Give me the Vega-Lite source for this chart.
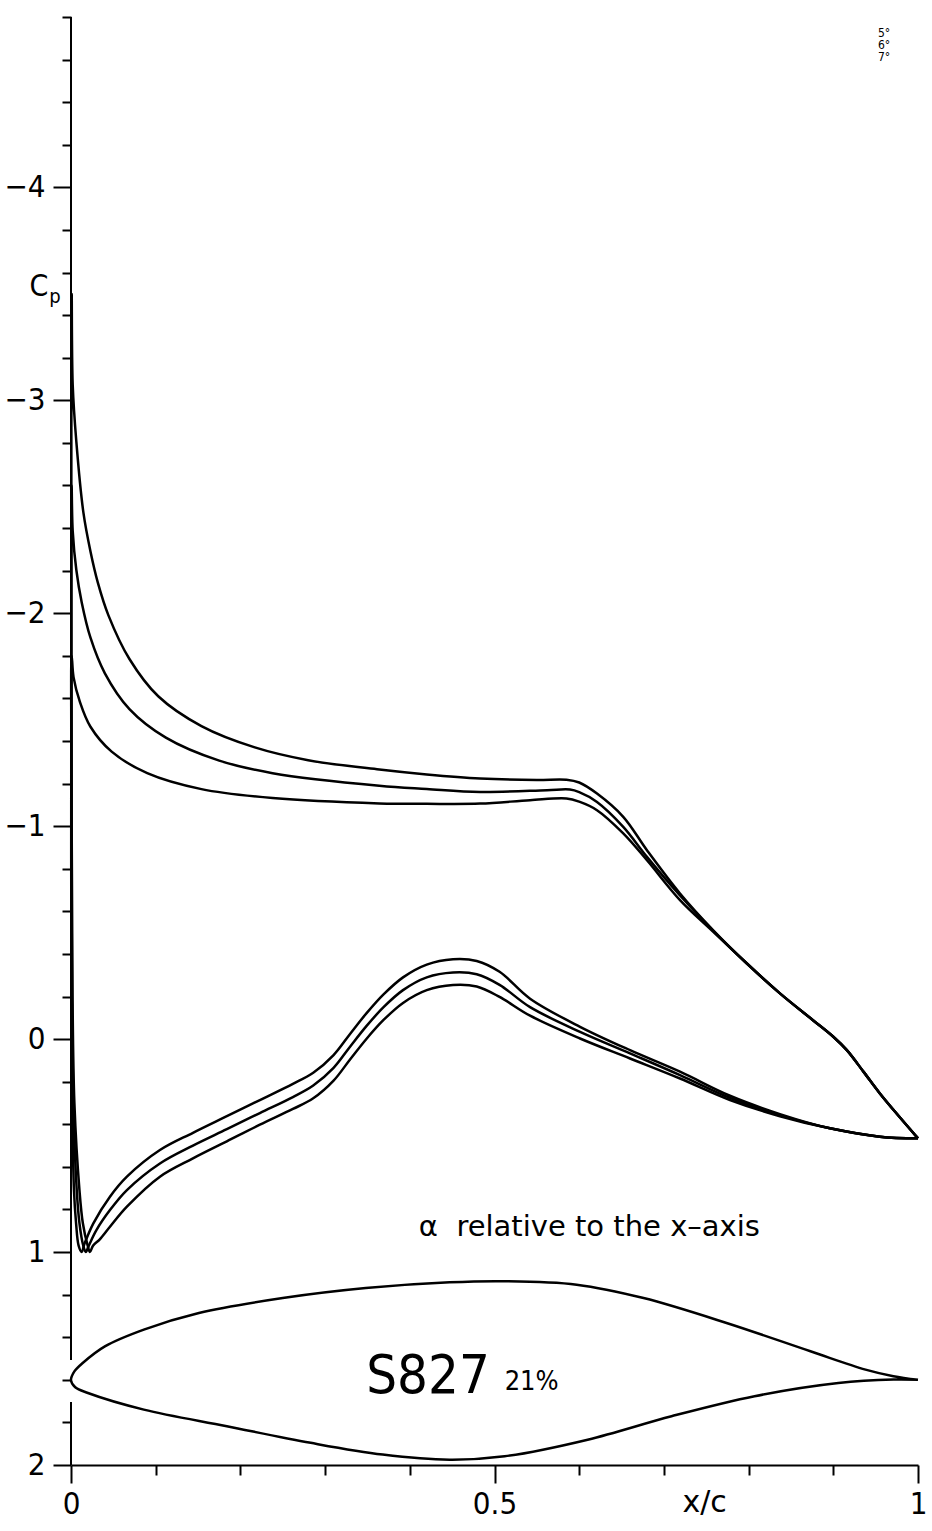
{
  "$schema": "https://vega.github.io/schema/vega-lite/v6.json",
  "width": 847,
  "height": 1448,
  "autosize": "none",
  "padding": {"left": 71, "top": 17, "right": 14, "bottom": 66},
  "background": "white",
  "config": {"view": {"stroke": null}, "axis": {"grid": false}},
  "datasets": {
    "curves": [
      {"a":"7","i":1,"x":1.0,"cp":0.466},{"a":"7","i":2,"x":0.977,"cp":0.36},{"a":"7","i":3,"x":0.955,"cp":0.255},{"a":"7","i":4,"x":0.936,"cp":0.155},{"a":"7","i":5,"x":0.916,"cp":0.052},{"a":"7","i":6,"x":0.9,"cp":-0.011},{"a":"7","i":7,"x":0.876,"cp":-0.089},{"a":"7","i":8,"x":0.837,"cp":-0.215},{"a":"7","i":9,"x":0.798,"cp":-0.355},{"a":"7","i":10,"x":0.758,"cp":-0.512},{"a":"7","i":11,"x":0.719,"cp":-0.684},{"a":"7","i":12,"x":0.68,"cp":-0.887},{"a":"7","i":13,"x":0.652,"cp":-1.044},{"a":"7","i":14,"x":0.621,"cp":-1.153},{"a":"7","i":15,"x":0.6,"cp":-1.205},{"a":"7","i":16,"x":0.585,"cp":-1.218},{"a":"7","i":17,"x":0.55,"cp":-1.217},{"a":"7","i":18,"x":0.483,"cp":-1.224},{"a":"7","i":19,"x":0.42,"cp":-1.243},{"a":"7","i":20,"x":0.364,"cp":-1.266},{"a":"7","i":21,"x":0.28,"cp":-1.31},{"a":"7","i":22,"x":0.217,"cp":-1.37},{"a":"7","i":23,"x":0.154,"cp":-1.47},{"a":"7","i":24,"x":0.103,"cp":-1.61},{"a":"7","i":25,"x":0.069,"cp":-1.785},{"a":"7","i":26,"x":0.0442,"cp":-1.99},{"a":"7","i":27,"x":0.0316,"cp":-2.145},{"a":"7","i":28,"x":0.023,"cp":-2.29},{"a":"7","i":29,"x":0.0147,"cp":-2.471},{"a":"7","i":30,"x":0.0063,"cp":-2.806},{"a":"7","i":31,"x":0.002,"cp":-3.074},{"a":"7","i":32,"x":0.0008,"cp":-3.5},{"a":"7","i":33,"x":0.0004,"cp":-2.5},{"a":"7","i":34,"x":0.0008,"cp":-1.0},{"a":"7","i":35,"x":0.0018,"cp":-0.2},{"a":"7","i":36,"x":0.004,"cp":0.3},{"a":"7","i":37,"x":0.01,"cp":0.71},{"a":"7","i":38,"x":0.014,"cp":0.865},{"a":"7","i":39,"x":0.0197,"cp":0.97},{"a":"7","i":40,"x":0.0224,"cp":1.0},{"a":"7","i":41,"x":0.026,"cp":0.97},{"a":"7","i":42,"x":0.034,"cp":0.94},{"a":"7","i":43,"x":0.046,"cp":0.881},{"a":"7","i":44,"x":0.066,"cp":0.787},{"a":"7","i":45,"x":0.105,"cp":0.646},{"a":"7","i":46,"x":0.144,"cp":0.56},{"a":"7","i":47,"x":0.184,"cp":0.48},{"a":"7","i":48,"x":0.223,"cp":0.402},{"a":"7","i":49,"x":0.262,"cp":0.328},{"a":"7","i":50,"x":0.286,"cp":0.278},{"a":"7","i":51,"x":0.31,"cp":0.195},{"a":"7","i":52,"x":0.329,"cp":0.098},{"a":"7","i":53,"x":0.349,"cp":-0.002},{"a":"7","i":54,"x":0.369,"cp":-0.09},{"a":"7","i":55,"x":0.392,"cp":-0.17},{"a":"7","i":56,"x":0.42,"cp":-0.23},{"a":"7","i":57,"x":0.451,"cp":-0.254},{"a":"7","i":58,"x":0.479,"cp":-0.247},{"a":"7","i":59,"x":0.506,"cp":-0.198},{"a":"7","i":60,"x":0.542,"cp":-0.11},{"a":"7","i":61,"x":0.601,"cp":-0.003},{"a":"7","i":62,"x":0.66,"cp":0.091},{"a":"7","i":63,"x":0.719,"cp":0.185},{"a":"7","i":64,"x":0.778,"cp":0.286},{"a":"7","i":65,"x":0.837,"cp":0.362},{"a":"7","i":66,"x":0.896,"cp":0.419},{"a":"7","i":67,"x":0.955,"cp":0.458},{"a":"7","i":68,"x":1.0,"cp":0.466},

      {"a":"6","i":1,"x":1.0,"cp":0.466},{"a":"6","i":2,"x":0.977,"cp":0.36},{"a":"6","i":3,"x":0.955,"cp":0.255},{"a":"6","i":4,"x":0.936,"cp":0.155},{"a":"6","i":5,"x":0.916,"cp":0.052},{"a":"6","i":6,"x":0.9,"cp":-0.011},{"a":"6","i":7,"x":0.876,"cp":-0.089},{"a":"6","i":8,"x":0.837,"cp":-0.215},{"a":"6","i":9,"x":0.798,"cp":-0.355},{"a":"6","i":10,"x":0.758,"cp":-0.51},{"a":"6","i":11,"x":0.719,"cp":-0.675},{"a":"6","i":12,"x":0.68,"cp":-0.856},{"a":"6","i":13,"x":0.652,"cp":-0.997},{"a":"6","i":14,"x":0.621,"cp":-1.114},{"a":"6","i":15,"x":0.6,"cp":-1.16},{"a":"6","i":16,"x":0.589,"cp":-1.172},{"a":"6","i":17,"x":0.562,"cp":-1.169},{"a":"6","i":18,"x":0.483,"cp":-1.161},{"a":"6","i":19,"x":0.42,"cp":-1.175},{"a":"6","i":20,"x":0.364,"cp":-1.19},{"a":"6","i":21,"x":0.238,"cp":-1.249},{"a":"6","i":22,"x":0.175,"cp":-1.308},{"a":"6","i":23,"x":0.112,"cp":-1.416},{"a":"6","i":24,"x":0.069,"cp":-1.55},{"a":"6","i":25,"x":0.04,"cp":-1.718},{"a":"6","i":26,"x":0.023,"cp":-1.885},{"a":"6","i":27,"x":0.0126,"cp":-2.052},{"a":"6","i":28,"x":0.0063,"cp":-2.203},{"a":"6","i":29,"x":0.002,"cp":-2.387},{"a":"6","i":30,"x":0.0007,"cp":-2.6},{"a":"6","i":31,"x":0.0003,"cp":-2.0},{"a":"6","i":32,"x":0.0006,"cp":-1.0},{"a":"6","i":33,"x":0.001,"cp":-0.4},{"a":"6","i":34,"x":0.0028,"cp":0.3},{"a":"6","i":35,"x":0.0068,"cp":0.71},{"a":"6","i":36,"x":0.01,"cp":0.865},{"a":"6","i":37,"x":0.0145,"cp":0.97},{"a":"6","i":38,"x":0.0175,"cp":1.0},{"a":"6","i":39,"x":0.021,"cp":0.97},{"a":"6","i":40,"x":0.03,"cp":0.897},{"a":"6","i":41,"x":0.046,"cp":0.803},{"a":"6","i":42,"x":0.066,"cp":0.709},{"a":"6","i":43,"x":0.105,"cp":0.584},{"a":"6","i":44,"x":0.144,"cp":0.5},{"a":"6","i":45,"x":0.184,"cp":0.423},{"a":"6","i":46,"x":0.223,"cp":0.347},{"a":"6","i":47,"x":0.262,"cp":0.272},{"a":"6","i":48,"x":0.286,"cp":0.218},{"a":"6","i":49,"x":0.31,"cp":0.135},{"a":"6","i":50,"x":0.329,"cp":0.038},{"a":"6","i":51,"x":0.349,"cp":-0.062},{"a":"6","i":52,"x":0.369,"cp":-0.15},{"a":"6","i":53,"x":0.392,"cp":-0.23},{"a":"6","i":54,"x":0.42,"cp":-0.29},{"a":"6","i":55,"x":0.451,"cp":-0.313},{"a":"6","i":56,"x":0.479,"cp":-0.305},{"a":"6","i":57,"x":0.506,"cp":-0.255},{"a":"6","i":58,"x":0.542,"cp":-0.15},{"a":"6","i":59,"x":0.601,"cp":-0.034},{"a":"6","i":60,"x":0.66,"cp":0.067},{"a":"6","i":61,"x":0.719,"cp":0.169},{"a":"6","i":62,"x":0.778,"cp":0.276},{"a":"6","i":63,"x":0.837,"cp":0.357},{"a":"6","i":64,"x":0.896,"cp":0.419},{"a":"6","i":65,"x":0.955,"cp":0.458},{"a":"6","i":66,"x":1.0,"cp":0.466},

      {"a":"5","i":1,"x":1.0,"cp":0.466},{"a":"5","i":2,"x":0.977,"cp":0.36},{"a":"5","i":3,"x":0.955,"cp":0.255},{"a":"5","i":4,"x":0.936,"cp":0.155},{"a":"5","i":5,"x":0.916,"cp":0.052},{"a":"5","i":6,"x":0.9,"cp":-0.011},{"a":"5","i":7,"x":0.876,"cp":-0.089},{"a":"5","i":8,"x":0.837,"cp":-0.215},{"a":"5","i":9,"x":0.798,"cp":-0.355},{"a":"5","i":10,"x":0.758,"cp":-0.505},{"a":"5","i":11,"x":0.719,"cp":-0.653},{"a":"5","i":12,"x":0.68,"cp":-0.84},{"a":"5","i":13,"x":0.652,"cp":-0.966},{"a":"5","i":14,"x":0.621,"cp":-1.075},{"a":"5","i":15,"x":0.6,"cp":-1.115},{"a":"5","i":16,"x":0.585,"cp":-1.13},{"a":"5","i":17,"x":0.542,"cp":-1.122},{"a":"5","i":18,"x":0.483,"cp":-1.106},{"a":"5","i":19,"x":0.42,"cp":-1.105},{"a":"5","i":20,"x":0.364,"cp":-1.107},{"a":"5","i":21,"x":0.238,"cp":-1.132},{"a":"5","i":22,"x":0.154,"cp":-1.174},{"a":"5","i":23,"x":0.09,"cp":-1.249},{"a":"5","i":24,"x":0.048,"cp":-1.35},{"a":"5","i":25,"x":0.023,"cp":-1.467},{"a":"5","i":26,"x":0.0105,"cp":-1.584},{"a":"5","i":27,"x":0.003,"cp":-1.7},{"a":"5","i":28,"x":0.0008,"cp":-1.8},{"a":"5","i":29,"x":0.0003,"cp":-1.4},{"a":"5","i":30,"x":0.0004,"cp":-0.5},{"a":"5","i":31,"x":0.0015,"cp":0.3},{"a":"5","i":32,"x":0.0035,"cp":0.71},{"a":"5","i":33,"x":0.006,"cp":0.865},{"a":"5","i":34,"x":0.009,"cp":0.97},{"a":"5","i":35,"x":0.0126,"cp":1.0},{"a":"5","i":36,"x":0.016,"cp":0.96},{"a":"5","i":37,"x":0.0264,"cp":0.865},{"a":"5","i":38,"x":0.046,"cp":0.74},{"a":"5","i":39,"x":0.066,"cp":0.646},{"a":"5","i":40,"x":0.105,"cp":0.521},{"a":"5","i":41,"x":0.144,"cp":0.44},{"a":"5","i":42,"x":0.184,"cp":0.362},{"a":"5","i":43,"x":0.223,"cp":0.286},{"a":"5","i":44,"x":0.262,"cp":0.21},{"a":"5","i":45,"x":0.286,"cp":0.158},{"a":"5","i":46,"x":0.31,"cp":0.075},{"a":"5","i":47,"x":0.329,"cp":-0.022},{"a":"5","i":48,"x":0.349,"cp":-0.122},{"a":"5","i":49,"x":0.369,"cp":-0.21},{"a":"5","i":50,"x":0.392,"cp":-0.29},{"a":"5","i":51,"x":0.42,"cp":-0.35},{"a":"5","i":52,"x":0.451,"cp":-0.375},{"a":"5","i":53,"x":0.479,"cp":-0.367},{"a":"5","i":54,"x":0.506,"cp":-0.316},{"a":"5","i":55,"x":0.542,"cp":-0.19},{"a":"5","i":56,"x":0.601,"cp":-0.058},{"a":"5","i":57,"x":0.66,"cp":0.052},{"a":"5","i":58,"x":0.719,"cp":0.153},{"a":"5","i":59,"x":0.778,"cp":0.266},{"a":"5","i":60,"x":0.837,"cp":0.352},{"a":"5","i":61,"x":0.896,"cp":0.419},{"a":"5","i":62,"x":0.955,"cp":0.458},{"a":"5","i":63,"x":1.0,"cp":0.466}
    ],
    "airfoil": [
      {"i":1,"x":1.0,"cp":1.6},{"i":2,"x":0.971,"cp":1.583},{"i":3,"x":0.938,"cp":1.552},{"i":4,"x":0.873,"cp":1.466},{"i":5,"x":0.774,"cp":1.333},{"i":6,"x":0.676,"cp":1.216},{"i":7,"x":0.597,"cp":1.153},{"i":8,"x":0.512,"cp":1.137},{"i":9,"x":0.447,"cp":1.142},{"i":10,"x":0.348,"cp":1.169},{"i":11,"x":0.25,"cp":1.216},{"i":12,"x":0.151,"cp":1.286},{"i":13,"x":0.086,"cp":1.364},{"i":14,"x":0.04,"cp":1.443},{"i":15,"x":0.0138,"cp":1.521},{"i":16,"x":0.004,"cp":1.56},{"i":17,"x":0.0,"cp":1.602},{"i":18,"x":0.005,"cp":1.635},{"i":19,"x":0.02,"cp":1.662},{"i":20,"x":0.086,"cp":1.74},{"i":21,"x":0.184,"cp":1.818},{"i":22,"x":0.283,"cp":1.896},{"i":23,"x":0.368,"cp":1.951},{"i":24,"x":0.447,"cp":1.975},{"i":25,"x":0.512,"cp":1.959},{"i":26,"x":0.61,"cp":1.881},{"i":27,"x":0.709,"cp":1.771},{"i":28,"x":0.807,"cp":1.677},{"i":29,"x":0.906,"cp":1.615},{"i":30,"x":0.971,"cp":1.599},{"i":31,"x":1.0,"cp":1.6}
    ],
    "axisline": [
      {"x":0,"cp":-4.8,"cp2":1.507},{"x":0,"cp":1.704,"cp2":2.0}
    ]
  },
  "layer": [
    {
      "data": {"name": "curves"},
      "mark": {"type": "line", "color": "black", "strokeWidth": 2.5, "interpolate": "catmull-rom"},
      "encoding": {
        "x": {"field": "x", "type": "quantitative",
          "scale": {"domain": [0, 1], "nice": false, "zero": false},
          "axis": {
            "values": [0,0.1,0.2,0.3,0.4,0.5,0.6,0.7,0.8,0.9,1],
            "title": null,
            "domainColor": "black", "domainWidth": 2,
            "tickColor": "black", "tickWidth": 2,
            "tickSize": {"condition": {"test": "abs(datum.value*2 - round(datum.value*2)) < 0.001", "value": 18}, "value": 10},
            "labelExpr": "abs(datum.value) < 0.001 ? '0' : abs(datum.value - 0.5) < 0.001 ? '0.5' : abs(datum.value - 1) < 0.001 ? '1' : ''",
            "labelFont": "DejaVu Sans Condensed",
            "labelFontSize": 31, "labelColor": "black", "labelPadding": 6,
            "labelFlush": false, "labelOverlap": false, "labelBound": false
          }
        },
        "y": {"field": "cp", "type": "quantitative",
          "scale": {"domain": [-4.8, 2], "nice": false, "zero": false, "reverse": true},
          "axis": {
            "values": [-4.8,-4.6,-4.4,-4.2,-4,-3.8,-3.6,-3.4,-3.2,-3,-2.8,-2.6,-2.4,-2.2,-2,-1.8,-1.6,-1.4,-1.2,-1,-0.8,-0.6,-0.4,-0.2,0,0.2,0.4,0.6,0.8,1,1.2,1.4,1.6,1.8,2],
            "title": null,
            "domain": false,
            "tickColor": "black", "tickWidth": 2,
            "tickSize": {"condition": {"test": "abs(datum.value - round(datum.value)) < 0.001", "value": 18}, "value": 9},
            "labelExpr": "abs(datum.value - round(datum.value)) < 0.001 ? (round(datum.value) < 0 ? '−' + abs(round(datum.value)) : '' + round(datum.value)) : ''",
            "labelFont": "DejaVu Sans Condensed",
            "labelFontSize": 31, "labelColor": "black", "labelPadding": 8,
            "labelOverlap": false, "labelBound": false, "labelFlush": false
          }
        },
        "detail": {"field": "a", "type": "nominal"},
        "order": {"field": "i", "type": "quantitative"}
      }
    },
    {
      "data": {"name": "airfoil"},
      "mark": {"type": "line", "color": "black", "strokeWidth": 2.5, "interpolate": "catmull-rom"},
      "encoding": {
        "x": {"field": "x", "type": "quantitative"},
        "y": {"field": "cp", "type": "quantitative"},
        "order": {"field": "i", "type": "quantitative"}
      }
    },
    {
      "data": {"name": "axisline"},
      "mark": {"type": "rule", "color": "black", "strokeWidth": 2},
      "encoding": {
        "x": {"field": "x", "type": "quantitative"},
        "y": {"field": "cp", "type": "quantitative"},
        "y2": {"field": "cp2"}
      }
    },
    {
      "data": {"values": [{"t": "S827", "x": 0.4215, "cp": 1.662}]},
      "mark": {"type": "text", "font": "DejaVu Sans Condensed", "fontSize": 54, "align": "center", "baseline": "alphabetic", "color": "black"},
      "encoding": {"x": {"field": "x", "type": "quantitative"}, "y": {"field": "cp", "type": "quantitative"}, "text": {"field": "t"}}
    },
    {
      "data": {"values": [{"t": "21%", "x": 0.512, "cp": 1.648}]},
      "mark": {"type": "text", "font": "DejaVu Sans Condensed", "fontSize": 27, "align": "left", "baseline": "alphabetic", "color": "black"},
      "encoding": {"x": {"field": "x", "type": "quantitative"}, "y": {"field": "cp", "type": "quantitative"}, "text": {"field": "t"}}
    },
    {
      "data": {"values": [{"t": "α\u00a0 relative to the x–axis", "x": 0.612, "cp": 0.925}]},
      "mark": {"type": "text", "font": "DejaVu Sans", "fontSize": 29, "align": "center", "baseline": "alphabetic", "color": "black"},
      "encoding": {"x": {"field": "x", "type": "quantitative"}, "y": {"field": "cp", "type": "quantitative"}, "text": {"field": "t"}}
    },
    {
      "data": {"values": [{"t": "x/c", "x": 0.748, "cp": 2.221}]},
      "mark": {"type": "text", "font": "DejaVu Sans", "fontSize": 30, "align": "center", "baseline": "alphabetic", "color": "black"},
      "encoding": {"x": {"field": "x", "type": "quantitative"}, "y": {"field": "cp", "type": "quantitative"}, "text": {"field": "t"}}
    },
    {
      "data": {"values": [{"t": "C", "x": -0.038, "cp": -3.488}]},
      "mark": {"type": "text", "font": "DejaVu Sans Condensed", "fontSize": 30, "align": "center", "baseline": "alphabetic", "color": "black"},
      "encoding": {"x": {"field": "x", "type": "quantitative"}, "y": {"field": "cp", "type": "quantitative"}, "text": {"field": "t"}}
    },
    {
      "data": {"values": [{"t": "p", "x": -0.019, "cp": -3.455}]},
      "mark": {"type": "text", "font": "DejaVu Sans Condensed", "fontSize": 20, "align": "center", "baseline": "alphabetic", "color": "black"},
      "encoding": {"x": {"field": "x", "type": "quantitative"}, "y": {"field": "cp", "type": "quantitative"}, "text": {"field": "t"}}
    },
    {
      "data": {"values": [{"t": "5°|6°|7°", "x": 0.96, "cp": -4.704}]},
      "mark": {"type": "text", "font": "DejaVu Sans Condensed", "fontSize": 12, "lineBreak": "|", "lineHeight": 12, "align": "center", "baseline": "alphabetic", "color": "black"},
      "encoding": {"x": {"field": "x", "type": "quantitative"}, "y": {"field": "cp", "type": "quantitative"}, "text": {"field": "t"}}
    }
  ]
}
